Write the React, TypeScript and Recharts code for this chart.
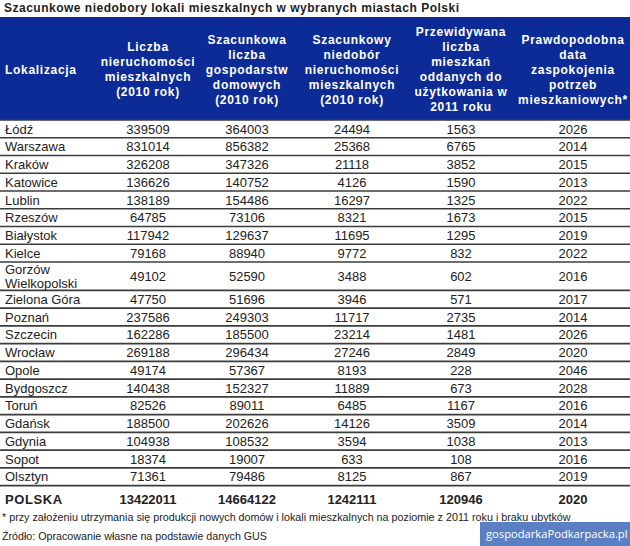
import { ComposedChart, ReferenceArea, ReferenceLine, Scatter, XAxis, YAxis } from 'recharts'

const TITLE = 'Szacunkowe niedobory lokali mieszkalnych w wybranych miastach Polski'

const HEADERS: string[][] = [
  ['Lokalizacja'],
  ['Liczba', 'nieruchomości', 'mieszkalnych', '(2010 rok)'],
  ['Szacunkowa', 'liczba', 'gospodarstw', 'domowych', '(2010 rok)'],
  ['Szacunkowy', 'niedobór', 'nieruchomości', 'mieszkalnych', '(2010 rok)'],
  ['Przewidywana', 'liczba', 'mieszkań', 'oddanych do', 'użytkowania w', '2011 roku'],
  ['Prawdopodobna', 'data', 'zaspokojenia', 'potrzeb', 'mieszkaniowych*'],
]

const CITIES = [
  'Łódź', 'Warszawa', 'Kraków', 'Katowice', 'Lublin', 'Rzeszów', 'Białystok', 'Kielce',
  'Gorzów Wielkopolski', 'Zielona Góra', 'Poznań', 'Szczecin', 'Wrocław', 'Opole',
  'Bydgoszcz', 'Toruń', 'Gdańsk', 'Gdynia', 'Sopot', 'Olsztyn',
]
const DWELLINGS_2010 = [
  339509, 831014, 326208, 136626, 138189, 64785, 117942, 79168, 49102, 47750,
  237586, 162286, 269188, 49174, 140438, 82526, 188500, 104938, 18374, 71361,
]
const HOUSEHOLDS_2010 = [
  364003, 856382, 347326, 140752, 154486, 73106, 129637, 88940, 52590, 51696,
  249303, 185500, 296434, 57367, 152327, 89011, 202626, 108532, 19007, 79486,
]
const SHORTAGE_2010 = [
  24494, 25368, 21118, 4126, 16297, 8321, 11695, 9772, 3488, 3946,
  11717, 23214, 27246, 8193, 11889, 6485, 14126, 3594, 633, 8125,
]
const COMPLETED_2011 = [
  1563, 6765, 3852, 1590, 1325, 1673, 1295, 832, 602, 571,
  2735, 1481, 2849, 228, 673, 1167, 3509, 1038, 108, 867,
]
const YEAR_MET = [
  2026, 2014, 2015, 2013, 2022, 2015, 2019, 2022, 2016, 2017,
  2014, 2026, 2020, 2046, 2028, 2016, 2014, 2013, 2016, 2019,
]
const TOTAL_LABEL = 'POLSKA'
const TOTALS = [13422011, 14664122, 1242111, 120946, 2020]

const FOOTNOTE = '* przy założeniu utrzymania się produkcji nowych domów i lokali mieszkalnych na poziomie z 2011 roku i braku ubytków'
const SOURCE = 'Źródło: Opracowanie własne na podstawie danych GUS'
const WATERMARK = 'gospodarkaPodkarpacka.pl'

// layout
const W = 630
const COL_WIDTHS = [100, 96, 102, 108, 110, 114]
const HEADER_UNITS = 5.8
const TOTAL_UNITS = 1.6
const ROW_PX = 17.75
const FONT = '"Liberation Sans", Arial, sans-serif'
const BLUE = '#0d2b96'

const colLeft = COL_WIDTHS.map((_, i) => COL_WIDTHS.slice(0, i).reduce((a, b) => a + b, 0))
const colX = (c: number) => (c === 0 ? 5 : colLeft[c] + COL_WIDTHS[c] / 2)

const nameLines = (n: string) => (n.length > 14 ? n.split(' ') : [n])

// row extents in row units
const rowHeights = CITIES.map((n) => (nameLines(n).length > 1 ? 1.6 : 1))
const rowTops = rowHeights.map((_, i) => rowHeights.slice(0, i).reduce((a, b) => a + b, 0))
const bodyUnits = rowHeights.reduce((a, b) => a + b, 0)
const Y_MIN = -HEADER_UNITS
const Y_MAX = bodyUnits + TOTAL_UNITS
const CHART_H = Math.round((Y_MAX - Y_MIN) * ROW_PX)

type Cell = { x: number; y: number; lines: string[]; col: number; bold?: boolean; header?: boolean }

const columns = [CITIES, DWELLINGS_2010, HOUSEHOLDS_2010, SHORTAGE_2010, COMPLETED_2011, YEAR_MET]

const columnCells: Cell[][] = columns.map((vals, c) => {
  const cells: Cell[] = vals.map((v, r) => ({
    x: colX(c),
    y: rowTops[r] + rowHeights[r] / 2,
    lines: c === 0 ? nameLines(String(v)) : [String(v)],
    col: c,
  }))
  cells.push({
    x: colX(c),
    y: bodyUnits + 0.8,
    lines: [c === 0 ? TOTAL_LABEL : String(TOTALS[c - 1])],
    col: c,
    bold: true,
  })
  return cells
})

const headerCells: Cell[] = HEADERS.map((lines, c) => ({
  x: colX(c),
  y: -HEADER_UNITS / 2 + 0.05,
  lines,
  col: c,
  header: true,
}))

const boundaries = [0, ...rowTops.slice(1), bodyUnits]

function CellText(props: any) {
  const { cx, cy, payload } = props
  const p = payload as Cell
  const anchor = p.col === 0 ? 'start' : 'middle'
  const size = p.header ? 12 : 13
  const lh = p.header ? 15 : 13.5
  const start = cy - ((p.lines.length - 1) * lh) / 2 + size * 0.36
  return (
    <text
      x={cx}
      y={start}
      textAnchor={anchor}
      fontFamily={FONT}
      fontSize={size}
      fontWeight={p.header || p.bold ? 'bold' : 'normal'}
      fill={p.header ? '#ffffff' : '#222222'}
      style={{ letterSpacing: p.header ? 0.7 : p.bold && p.col === 0 ? 0.6 : 0 }}
    >
      {p.lines.map((l, i) => (
        <tspan key={i} x={cx} dy={i === 0 ? 0 : lh}>
          {l}
        </tspan>
      ))}
    </text>
  )
}

export default function App() {
  return (
    <div style={{ position: 'absolute', left: 0, top: 0, width: W, height: 546, background: '#fff', fontFamily: FONT, overflow: 'hidden' }}>
      <div
        style={{
          position: 'absolute', left: 4, top: 1, fontSize: 12, fontWeight: 'bold',
          color: '#1e1e1e', letterSpacing: 0.5, whiteSpace: 'nowrap',
        }}
      >
        {TITLE}
      </div>
      <div style={{ position: 'absolute', left: 0, top: 16.5 }}>
        <ComposedChart width={W} height={CHART_H} margin={{ top: 0, right: 0, bottom: 0, left: 0 }}>
          <XAxis type="number" dataKey="x" domain={[0, W]} hide />
          <YAxis type="number" dataKey="y" domain={[Y_MIN, Y_MAX]} reversed hide allowDataOverflow />
          <ReferenceArea y1={Y_MIN} y2={0} fill={BLUE} fillOpacity={1} stroke="none" />
          {boundaries.map((b, i) => (
            <ReferenceLine key={i} y={b} stroke="#3c3c3c" strokeWidth={1.6} />
          ))}
          <Scatter name="header" data={headerCells} shape={CellText} isAnimationActive={false} />
          {columnCells.map((cells, c) => (
            <Scatter key={c} name={`col${c}`} data={cells} shape={CellText} isAnimationActive={false} />
          ))}
        </ComposedChart>
      </div>
      <div style={{ position: 'absolute', left: 2, top: 511, fontSize: 10.75, color: '#222', whiteSpace: 'nowrap' }}>
        {FOOTNOTE}
      </div>
      <div style={{ position: 'absolute', left: 2, top: 530, fontSize: 10.7, color: '#222', whiteSpace: 'nowrap' }}>
        {SOURCE}
      </div>
      <div
        style={{
          position: 'absolute', left: 480, top: 522, width: 150, height: 24, background: '#5b7fc3',
          color: '#fff', fontFamily: '"Open Sans", sans-serif', fontSize: 11.2, lineHeight: '24px',
          paddingLeft: 6, boxSizing: 'border-box', whiteSpace: 'nowrap', overflow: 'hidden',
        }}
      >
        {WATERMARK}
      </div>
    </div>
  )
}
